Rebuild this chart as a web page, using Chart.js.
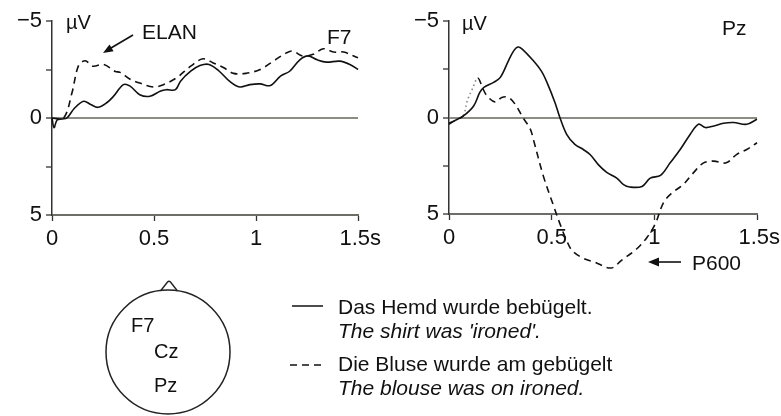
<!DOCTYPE html>
<html>
<head>
<meta charset="utf-8">
<script src="https://cdn.jsdelivr.net/npm/chart.js@4"></script>
<style>
  html,body{margin:0;padding:0;background:#fff;}
  #wrap{position:relative;width:781px;height:416px;background:#fff;overflow:hidden;}
  canvas{position:absolute;top:0;}
  svg{position:absolute;left:0;top:0;pointer-events:none;}
  svg text{font-family:'Liberation Sans',Arial,sans-serif;fill:#111;}
</style>
</head>
<body>
<div id="wrap">
  <canvas id="cF7" width="390" height="300" style="left:0;width:390px;height:300px"></canvas>
  <canvas id="cPz" width="391" height="300" style="left:390px;width:391px;height:300px"></canvas>
  <svg width="781" height="416" viewBox="0 0 781 416">
    <!-- panel labels -->
    <text x="66" y="29" font-size="20" font-family="'Liberation Serif',serif">µV</text>
    <text x="462" y="30" font-size="20" font-family="'Liberation Serif',serif">µV</text>
    <text x="142" y="39" font-size="21">ELAN</text>
    <text x="327" y="44" font-size="21">F7</text>
    <text x="722" y="35" font-size="21">Pz</text>
    <text x="692" y="270" font-size="21">P600</text>
    <!-- ELAN arrow -->
    <line x1="133" y1="35" x2="111" y2="48" stroke="#111" stroke-width="1.6"/>
    <polygon points="103,53 113.6,51.3 109.5,44.4" fill="#111"/>
    <!-- P600 arrow -->
    <line x1="681" y1="262" x2="657" y2="262" stroke="#111" stroke-width="1.6"/>
    <polygon points="648,262 659,257.5 659,266.5" fill="#111"/>
    <!-- head -->
    <path d="M160.5,291 L167.5,282 Q169,280.5 170.5,282 L177.5,291" fill="none" stroke="#222" stroke-width="1.4"/>
    <ellipse cx="168" cy="352" rx="62" ry="62" fill="none" stroke="#222" stroke-width="1.5"/>
    <text x="131" y="332" font-size="20">F7</text>
    <text x="154" y="358" font-size="20">Cz</text>
    <text x="154" y="392" font-size="20">Pz</text>
    <!-- legend -->
    <line x1="292" y1="306" x2="323" y2="306" stroke="#111" stroke-width="1.5"/>
    <line x1="290" y1="365" x2="323" y2="365" stroke="#111" stroke-width="1.5" stroke-dasharray="7,5"/>
    <text x="338" y="314" font-size="21">Das Hemd wurde bebügelt.</text>
    <text x="338" y="338" font-size="21" font-style="italic">The shirt was 'ironed'.</text>
    <text x="338" y="371" font-size="21">Die Bluse wurde am gebügelt</text>
    <text x="338" y="395" font-size="21" font-style="italic">The blouse was on ironed.</text>
  </svg>
</div>
<script>
// ---- data (time in s, amplitude in µV; negative up) ----
const xTickValues = [0, 0.5, 1, 1.5];
const xTickLabels = ['0', '0.5', '1', '\u20091.5s'];
const yTickValues = [-5, -2.5, 0, 2.5, 5];
const yTickLabels = ['\u22125', '', '0', '', '5'];

const f7SolidTime  = [0, 0.01, 0.025, 0.05, 0.073, 0.11, 0.155, 0.19, 0.225, 0.27, 0.30, 0.35, 0.383, 0.43, 0.48, 0.53, 0.56, 0.605, 0.63, 0.68, 0.725, 0.77, 0.82, 0.87, 0.92, 0.97, 1.02, 1.07, 1.12, 1.165, 1.215, 1.255, 1.30, 1.345, 1.41, 1.46, 1.5];
const f7SolidValue = [0, 0.5, 0.1, 0.05, 0, -0.5, -0.86, -0.7, -0.55, -0.8, -1.1, -1.72, -1.64, -1.2, -1.12, -1.38, -1.46, -1.46, -1.9, -2.41, -2.7, -2.76, -2.41, -1.9, -1.6, -1.72, -1.76, -1.67, -2.16, -2.41, -3.0, -3.2, -3.0, -2.88, -2.93, -2.76, -2.5];

const f7DashedTime  = [0, 0.057, 0.098, 0.13, 0.163, 0.2, 0.253, 0.31, 0.334, 0.383, 0.43, 0.497, 0.546, 0.61, 0.68, 0.74, 0.79, 0.84, 0.89, 0.95, 1.02, 1.085, 1.15, 1.18, 1.23, 1.28, 1.33, 1.38, 1.43, 1.5];
const f7DashedValue = [0, 0, -1.3, -2.7, -2.95, -2.67, -2.76, -2.4, -2.35, -2.0, -1.8, -1.6, -1.72, -2.07, -2.67, -3.05, -2.84, -2.6, -2.3, -2.3, -2.5, -2.93, -3.36, -3.45, -3.19, -3.28, -3.57, -3.4, -3.4, -3.1];

const pzSolidTime  = [0, 0.03, 0.07, 0.12, 0.15, 0.17, 0.217, 0.25, 0.29, 0.315, 0.335, 0.355, 0.41, 0.45, 0.477, 0.516, 0.54, 0.573, 0.613, 0.654, 0.687, 0.727, 0.768, 0.817, 0.85, 0.88, 0.94, 0.98, 1.03, 1.077, 1.126, 1.175, 1.215, 1.248, 1.29, 1.337, 1.386, 1.45, 1.5];
const pzSolidValue = [0.35, 0.15, -0.08, -0.6, -1.3, -1.56, -1.82, -2.08, -2.95, -3.45, -3.65, -3.56, -2.95, -2.4, -1.82, -0.78, 0, 0.87, 1.39, 1.66, 1.92, 2.44, 2.84, 3.14, 3.48, 3.6, 3.57, 3.14, 3.0, 2.35, 1.66, 0.87, 0.35, 0.52, 0.44, 0.3, 0.26, 0.35, 0.09];

const pzDashedTime  = [0, 0.04, 0.07, 0.09, 0.115, 0.14, 0.165, 0.185, 0.225, 0.257, 0.29, 0.322, 0.36, 0.396, 0.41, 0.46, 0.51, 0.54, 0.57, 0.6, 0.655, 0.71, 0.79, 0.84, 0.915, 0.965, 1.005, 1.045, 1.085, 1.14, 1.19, 1.24, 1.29, 1.35, 1.40, 1.45, 1.5];
const pzDashedValue = [0.3, 0.1, -0.1, -0.9, -1.5, -2.05, -1.5, -1.12, -0.8, -1.04, -1.04, -0.69, 0, 0.6, 1.1, 3.05, 4.6, 5.5, 6.3, 6.9, 7.3, 7.5, 7.8, 7.4, 6.8, 6.2, 5.5, 4.4, 3.92, 3.48, 2.87, 2.35, 2.26, 2.35, 1.92, 1.66, 1.31];

// ---- helpers ----
const pts = (t, v) => t.map((x, i) => ({x: x, y: v[i]}));
Chart.defaults.font.family = "'Liberation Sans', Arial, sans-serif";
Chart.defaults.color = '#111';

function panel(canvasId, datasets, yAxisWidth, pad) {
  return new Chart(document.getElementById(canvasId), {
    type: 'line',
    data: { datasets: datasets },
    options: {
      responsive: false,
      animation: false,
      devicePixelRatio: 1,
      layout: { padding: pad },
      plugins: { legend: { display: false }, tooltip: { enabled: false } },
      elements: { point: { radius: 0 }, line: { tension: 0.35 } },
      scales: {
        x: {
          type: 'linear', min: 0, max: 1.5,
          afterBuildTicks: s => { s.ticks = xTickValues.map(v => ({value: v})); },
          afterFit: s => { s.height = 30; s.paddingLeft = 0; s.paddingRight = 0; },
          ticks: {
            font: { size: 22 }, padding: 5, maxRotation: 0, autoSkip: false,
            callback: (v) => { const i = xTickValues.indexOf(v); return i >= 0 ? xTickLabels[i] : ''; }
          },
          grid: { drawOnChartArea: false, tickLength: 6, tickColor: '#333', tickWidth: 1.3 },
          border: { display: true, color: '#6e6e68', width: 2 }
        },
        y: {
          type: 'linear', min: -5, max: 5, reverse: true,
          afterBuildTicks: s => { s.ticks = yTickValues.map(v => ({value: v})); },
          afterFit: s => { s.width = yAxisWidth; s.paddingTop = 0; s.paddingBottom = 0; },
          ticks: {
            font: { size: 22 }, padding: 4, autoSkip: false,
            callback: (v) => { const i = yTickValues.indexOf(v); return i >= 0 ? yTickLabels[i] : ''; }
          },
          grid: {
            drawOnChartArea: true, tickLength: 6, tickColor: '#333', tickWidth: 1.3,
            color: c => (c.tick && c.tick.value === 0) ? '#8c8c84' : 'rgba(0,0,0,0)',
            lineWidth: 2
          },
          border: { display: true, color: '#333', width: 1.5 }
        }
      }
    }
  });
}

const solidStyle = { borderColor: '#111', borderWidth: 1.6, fill: false, clip: false };
const dashedStyle = { borderColor: '#111', borderWidth: 1.6, borderDash: [7, 5], fill: false, clip: false };

panel('cF7', [
  Object.assign({ label: 'Das Hemd wurde bebügelt.', data: pts(f7SolidTime, f7SolidValue) }, solidStyle),
  Object.assign({ label: 'Die Bluse wurde am gebügelt', data: pts(f7DashedTime, f7DashedValue) }, dashedStyle)
], 52, { left: 0, top: 21, right: 32, bottom: 55 });

const dottedPart = c => c.p0.parsed.x >= 0.07 && c.p1.parsed.x <= 0.141;
panel('cPz', [
  Object.assign({ label: 'Das Hemd wurde bebügelt.', data: pts(pzSolidTime, pzSolidValue) }, solidStyle),
  Object.assign({ label: 'Die Bluse wurde am gebügelt', data: pts(pzDashedTime, pzDashedValue),
    segment: {
      borderDash: c => dottedPart(c) ? [1.5, 3] : [7, 5],
      borderColor: c => dottedPart(c) ? '#8a8a8a' : '#111'
    } }, dashedStyle)
], 59, { left: 0, top: 21, right: 24, bottom: 56 });
</script>
</body>
</html>
